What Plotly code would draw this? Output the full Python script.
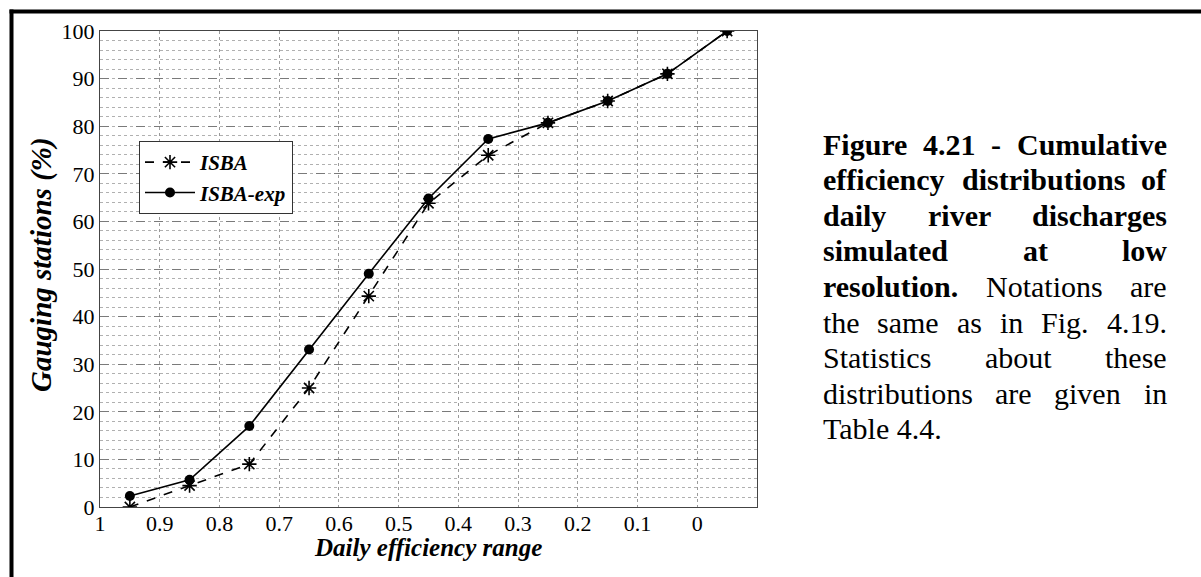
import plotly.graph_objects as go

# ---------------- data ----------------
efficiency_range = [0.95, 0.85, 0.75, 0.65, 0.55, 0.45, 0.35, 0.25, 0.15, 0.05, -0.05]
isba = [0.0, 4.5, 9.0, 25.0, 44.3, 63.8, 73.9, 80.7, 85.3, 91.0, 100.0]
isba_exp = [2.3, 5.7, 17.0, 33.1, 49.0, 64.8, 77.3, 80.7, 85.3, 91.0, 100.0]

x_tick_vals = [1.0, 0.9, 0.8, 0.7, 0.6, 0.5, 0.4, 0.3, 0.2, 0.1, 0.0]
x_tick_text = ["1", "0.9", "0.8", "0.7", "0.6", "0.5", "0.4", "0.3", "0.2", "0.1", "0"]
y_tick_vals = [0, 10, 20, 30, 40, 50, 60, 70, 80, 90, 100]

x_title = "Daily efficiency range"
y_title = "Gauging stations (%)"

# caption: list of lines, each a list of (word, bold); last line not justified
caption_lines = [
    [("Figure", True), ("4.21", True), ("-", True), ("Cumulative", True)],
    [("efficiency", True), ("distributions", True), ("of", True)],
    [("daily", True), ("river", True), ("discharges", True)],
    [("simulated", True), ("at", True), ("low", True)],
    [("resolution.", True), ("Notations", False), ("are", False)],
    [("the", False), ("same", False), ("as", False), ("in", False), ("Fig.", False), ("4.19.", False)],
    [("Statistics", False), ("about", False), ("these", False)],
    [("distributions", False), ("are", False), ("given", False), ("in", False)],
    [("Table 4.4.", False)],
]

# ---------------- layout geometry (pixels) ----------------
W, H = 1201, 577
PX0, PX1 = 100, 757   # plot area left/right
PY0, PY1 = 31, 507    # plot area top/bottom


def xp(px):
    return (px - PX0) / (PX1 - PX0)


def yp(py):
    return (PY1 - py) / (PY1 - PY0)


SERIF = "Liberation Serif, Times New Roman, Times, serif"
BLACK = "#000000"

fig = go.Figure()
fig.add_trace(go.Scatter(
    x=efficiency_range, y=isba, name="ISBA", mode="lines+markers",
    line=dict(color=BLACK, width=1.6, dash="dash"),
    marker=dict(symbol="asterisk-open", size=12, color=BLACK,
                line=dict(color=BLACK, width=1.6)),
))
fig.add_trace(go.Scatter(
    x=efficiency_range, y=isba_exp, name="ISBA-exp", mode="lines+markers",
    line=dict(color=BLACK, width=1.6),
    marker=dict(symbol="circle", size=10, color=BLACK),
))

fig.update_xaxes(
    range=[1.0, -0.1], tickmode="array", tickvals=x_tick_vals, ticktext=x_tick_text,
    showgrid=True, gridcolor="#9a9a9a", griddash="dot", gridwidth=1,
    showline=True, mirror=True, linecolor="#444444", linewidth=1,
    zeroline=False, ticks="", ticklabelstandoff=-3,
    tickfont=dict(family=SERIF, size=22, color=BLACK),
)
fig.update_yaxes(
    range=[0, 100], tickmode="array", tickvals=y_tick_vals,
    showgrid=True, gridcolor="#7a7a7a", griddash="dash", gridwidth=1,
    minor=dict(dtick=2, showgrid=True, gridcolor="#b0b0b0", griddash="dot", gridwidth=1),
    showline=True, mirror=True, linecolor="#444444", linewidth=1,
    zeroline=False, ticks="",
    tickfont=dict(family=SERIF, size=22, color=BLACK),
)

annotations = []
# axis titles
annotations.append(dict(
    text=x_title, xref="paper", yref="paper", x=xp(428), y=yp(547),
    xanchor="center", yanchor="middle", showarrow=False,
    font=dict(family=SERIF, size=25, color=BLACK, weight="bold", style="italic"),
))
annotations.append(dict(
    text=y_title, xref="paper", yref="paper", x=xp(41), y=yp(265),
    xanchor="center", yanchor="middle", showarrow=False, textangle=-90,
    font=dict(family=SERIF, size=29, color=BLACK, weight="bold", style="italic"),
))

# ---------------- caption (justified, word by word) ----------------
REG = dict(zip("abcdefghijklmnopqrstuvwxyz",
               [444, 500, 444, 500, 444, 333, 500, 500, 278, 278, 500, 278, 778,
                500, 500, 500, 500, 333, 389, 278, 500, 500, 722, 500, 500, 444]))
REG.update({"F": 556, "N": 722, "S": 556, "T": 611, ".": 250, "-": 333, " ": 250})
BLD = dict(zip("abcdefghijklmnopqrstuvwxyz",
               [500, 556, 444, 556, 444, 333, 500, 556, 278, 333, 556, 278, 833,
                556, 500, 556, 556, 444, 389, 333, 556, 500, 722, 500, 500, 444]))
BLD.update({"F": 611, "C": 722, ".": 250, "-": 333, " ": 250})
CAP_SIZE = 30


def word_width(word, bold):
    table = BLD if bold else REG
    return sum(table.get(c, 500) for c in word) / 1000.0 * CAP_SIZE


CAP_LEFT, CAP_RIGHT = 823, 1167
CAP_TOP, CAP_STEP = 144, 35.6

for k, words in enumerate(caption_lines):
    py = CAP_TOP + k * CAP_STEP
    widths = [word_width(w, b) for w, b in words]
    n = len(words)
    if n == 1:
        positions = [(CAP_LEFT, "left")]
    else:
        gap = (CAP_RIGHT - CAP_LEFT - sum(widths)) / (n - 1)
        positions = []
        cur = CAP_LEFT
        for i, wdt in enumerate(widths):
            if i == 0:
                positions.append((CAP_LEFT, "left"))
            elif i == n - 1:
                positions.append((CAP_RIGHT, "right"))
            else:
                positions.append((cur + wdt / 2.0, "center"))
            cur += wdt + gap
    for (word, bold), (px, anchor) in zip(words, positions):
        annotations.append(dict(
            text=word, xref="paper", yref="paper", x=xp(px), y=yp(py),
            xanchor=anchor, yanchor="middle", showarrow=False,
            borderpad=0, borderwidth=0,
            font=dict(family=SERIF, size=CAP_SIZE, color=BLACK,
                      weight="bold" if bold else "normal"),
        ))

# outer page frame (thick black lines at top and left)
shapes = [
    dict(type="line", xref="paper", yref="paper",
         x0=xp(11.5), y0=yp(H + 5), x1=xp(11.5), y1=yp(9.5),
         line=dict(color=BLACK, width=4)),
    dict(type="line", xref="paper", yref="paper",
         x0=xp(9.5), y0=yp(11.5), x1=xp(W + 5), y1=yp(11.5),
         line=dict(color=BLACK, width=4)),
]

fig.update_layout(
    width=W, height=H,
    margin=dict(l=PX0, r=W - PX1, t=PY0, b=H - PY1),
    paper_bgcolor="white", plot_bgcolor="white",
    showlegend=True,
    legend=dict(
        x=xp(139), y=yp(141), xanchor="left", yanchor="top",
        bgcolor="white", bordercolor="#333333", borderwidth=1,
        font=dict(family=SERIF, size=21, color=BLACK, weight="bold", style="italic"),
        itemwidth=50, tracegroupgap=0,
    ),
    annotations=annotations,
    shapes=shapes,
)

fig.write_html(
    "out.html",
    config={"displayModeBar": False},
    post_script="document.body.style.margin='0';document.body.style.overflow='hidden';",
)
